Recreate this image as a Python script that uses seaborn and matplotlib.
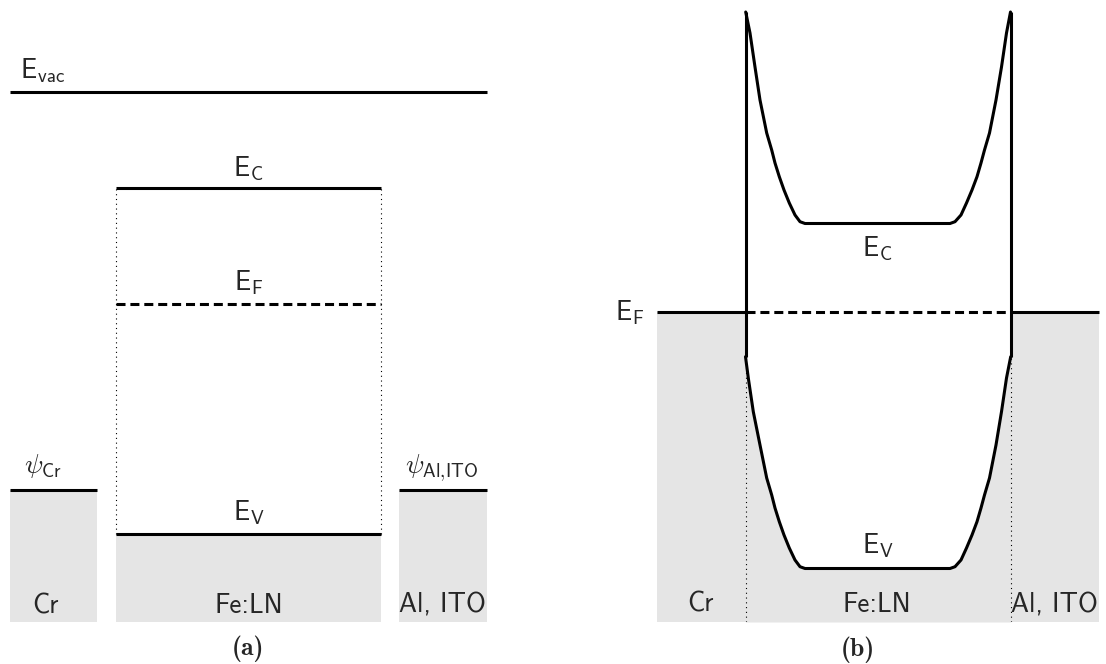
import os
import numpy as np
import pandas as pd
import matplotlib
matplotlib.use("Agg")
import matplotlib.pyplot as plt
from matplotlib.font_manager import FontProperties
import seaborn as sns

# ---------------- data (energies in arbitrary units, E = 0 at bottom) ----------------
# panel (a): flat-band levels before contact
a_level_labels = ["vac", "C", "F", "V"]
a_level_E = [5.30, 4.34, 3.18, 0.88]
a_workfn_labels = ["Cr", "Al{,}ITO"]
a_workfn_E = [1.32, 1.32]
a_layer_names = ["Cr", "Fe:LN", "Al, ITO"]
a_layer_left = [0.00, 1.06, 3.89]
a_layer_right = [0.87, 3.71, 4.77]

# panel (b): band bending after contact
b_EF = 3.10
b_interfaces = [0.885, 3.535]
b_layer_names = ["Cr", "Fe:LN", "Al, ITO"]
b_x_Ec = [0.887, 0.93, 0.98, 1.03, 1.097, 1.147, 1.18, 1.223, 1.27, 1.323, 1.38, 1.43, 1.48,
          2.93, 2.98, 3.04, 3.095, 3.15, 3.20, 3.24, 3.275, 3.325, 3.39, 3.445, 3.495, 3.535]
b_Ec = [6.10, 5.89, 5.55, 5.22, 4.89, 4.72, 4.59, 4.453, 4.32, 4.19, 4.07, 4.003, 3.985,
        3.985, 4.003, 4.07, 4.19, 4.32, 4.453, 4.59, 4.72, 4.89, 5.22, 5.55, 5.89, 6.10]
b_x_Ev = [0.885, 0.913, 0.963, 1.03, 1.097, 1.147, 1.18, 1.223, 1.27, 1.323, 1.38, 1.43, 1.48,
          2.93, 2.98, 3.04, 3.095, 3.15, 3.20, 3.24, 3.275, 3.325, 3.39, 3.445, 3.495, 3.537]
b_Ev = [2.653, 2.44, 2.103, 1.77, 1.44, 1.27, 1.14, 1.003, 0.87, 0.74, 0.62, 0.553, 0.535,
        0.535, 0.553, 0.62, 0.74, 0.87, 1.003, 1.14, 1.27, 1.44, 1.77, 2.103, 2.44, 2.653]

# ---------------- style ----------------
sns.set_theme(style="white")
plt.rcParams["mathtext.fontset"] = "cm"
plt.rcParams["font.family"] = ["DejaVu Sans"]
TTF = os.path.join(matplotlib.get_data_path(), "fonts", "ttf")
SANS = FontProperties(fname=os.path.join(TTF, "cmss10.ttf"))
BOLD = FontProperties(fname=os.path.join(TTF, "cmb10.ttf"))
GRAY = "#e5e5e5"
LW = 2.2
FS = 19.5
DASH = (0, (2.95, 1.6))
DOT = (0, (1, 3.3))

W, H = 1106, 664
fig = plt.figure(figsize=(W / 100, H / 100), dpi=100)
fig.patch.set_facecolor("white")

axA = fig.add_axes([10 / W, (H - 622) / H, 477 / W, 622 / H])
axB = fig.add_axes([657 / W, (H - 622) / H, 442 / W, 622 / H])
for ax, xmax in ((axA, 4.77), (axB, 4.42)):
    ax.set_xlim(0, xmax)
    ax.set_ylim(0, 6.22)
    ax.set_axis_off()

def elabel(sub):
    return r"$\mathsf{E}_{\mathsf{" + sub + "}}$"

def plain(ax, x, y, s, **kw):
    ax.text(x, y, s, fontproperties=SANS, fontsize=FS, va="baseline", **kw)

# ---------------- panel (a) ----------------
Evac, Ec, EF, Ev = a_level_E
ln_l, ln_r = a_layer_left[1], a_layer_right[1]
ln_c = 0.5 * (ln_l + ln_r)

axA.fill_between([a_layer_left[0], a_layer_right[0]], 0, a_workfn_E[0], color=GRAY, lw=0, zorder=1)
axA.fill_between([ln_l, ln_r], 0, Ev, color=GRAY, lw=0, zorder=1)
axA.fill_between([a_layer_left[2], a_layer_right[2]], 0, a_workfn_E[1], color=GRAY, lw=0, zorder=1)

axA.plot([0, 4.77], [Evac, Evac], color="black", lw=LW, solid_capstyle="butt", clip_on=False, zorder=3)
axA.plot([ln_l, ln_r], [Ec, Ec], color="black", lw=LW, solid_capstyle="butt", zorder=3)
axA.plot([ln_l, ln_r], [EF, EF], color="black", lw=LW, linestyle=DASH, dash_capstyle="butt", zorder=3)
axA.plot([ln_l, ln_r], [Ev, Ev], color="black", lw=LW, solid_capstyle="butt", zorder=3)
axA.plot([a_layer_left[0], a_layer_right[0]], [a_workfn_E[0]] * 2, color="black", lw=LW, solid_capstyle="butt", clip_on=False, zorder=3)
axA.plot([a_layer_left[2], a_layer_right[2]], [a_workfn_E[1]] * 2, color="black", lw=LW, solid_capstyle="butt", clip_on=False, zorder=3)
axA.vlines([ln_l, ln_r], Ev, Ec, color="black", lw=0.8, linestyles=DOT, zorder=2)

axA.text(0.10, 5.44, elabel(a_level_labels[0]), fontsize=FS, ha="left", va="baseline")
axA.text(ln_c, 4.47, elabel(a_level_labels[1]), fontsize=FS, ha="center", va="baseline")
axA.text(ln_c, 3.32, elabel(a_level_labels[2]), fontsize=FS, ha="center", va="baseline")
axA.text(ln_c, 1.02, elabel(a_level_labels[3]), fontsize=FS, ha="center", va="baseline")
axA.text(0.33, 1.49, r"$\psi_{\mathsf{" + a_workfn_labels[0] + "}}$", fontsize=FS, ha="center", va="baseline")
axA.text(4.32, 1.49, r"$\psi_{\mathsf{" + a_workfn_labels[1] + "}}$", fontsize=FS, ha="center", va="baseline")
for xc, name in zip([0.35, ln_c, 4.32], a_layer_names):
    plain(axA, xc, 0.09, name, ha="center")
axA.text(ln_c, -0.27, "(a)", fontproperties=BOLD, fontsize=18.5, ha="center", va="center", clip_on=False)

# ---------------- panel (b) ----------------
xl, xr = b_interfaces
axB.fill_between([0, xl], 0, b_EF, color=GRAY, lw=0, zorder=1)
axB.fill_between([xr, 4.42], 0, b_EF, color=GRAY, lw=0, zorder=1)
axB.fill_between(b_x_Ev, 0, b_Ev, color=GRAY, lw=0, zorder=1)

axB.plot([0, xl], [b_EF, b_EF], color="black", lw=LW, solid_capstyle="butt", zorder=3)
axB.plot([xr, 4.42], [b_EF, b_EF], color="black", lw=LW, solid_capstyle="butt", clip_on=False, zorder=3)
axB.plot([xl, xr], [b_EF, b_EF], color="black", lw=LW, linestyle=DASH, dash_capstyle="butt", zorder=3)

df_c = pd.DataFrame({"x": b_x_Ec, "E": b_Ec})
df_v = pd.DataFrame({"x": b_x_Ev, "E": b_Ev})
sns.lineplot(data=df_c, x="x", y="E", ax=axB, color="black", lw=LW, sort=False,
             estimator=None, zorder=4)
sns.lineplot(data=df_v, x="x", y="E", ax=axB, color="black", lw=LW, sort=False,
             estimator=None, zorder=4)
for ln in axB.lines[-2:]:
    ln.set_solid_joinstyle("round")
axB.vlines([xl, xr], b_Ev[0], b_Ec[0], color="black", lw=LW, zorder=4)
axB.vlines([xl, xr], 0, b_Ev[0], color="black", lw=0.8, linestyles=DOT, zorder=2)
axB.set_axis_off()

axB.text(-0.13, 3.02, elabel("F"), fontsize=FS, ha="right", va="baseline", clip_on=False)
axB.text(2.205, 3.67, elabel("C"), fontsize=FS, ha="center", va="baseline")
axB.text(2.205, 0.69, elabel("V"), fontsize=FS, ha="center", va="baseline")
for xc, name in zip([0.43, 2.20, 3.97], b_layer_names):
    plain(axB, xc, 0.10, name, ha="center")
axB.text(2.01, -0.28, "(b)", fontproperties=BOLD, fontsize=18.5, ha="center", va="center", clip_on=False)

fig.savefig("out.png", dpi=100, facecolor="white")
